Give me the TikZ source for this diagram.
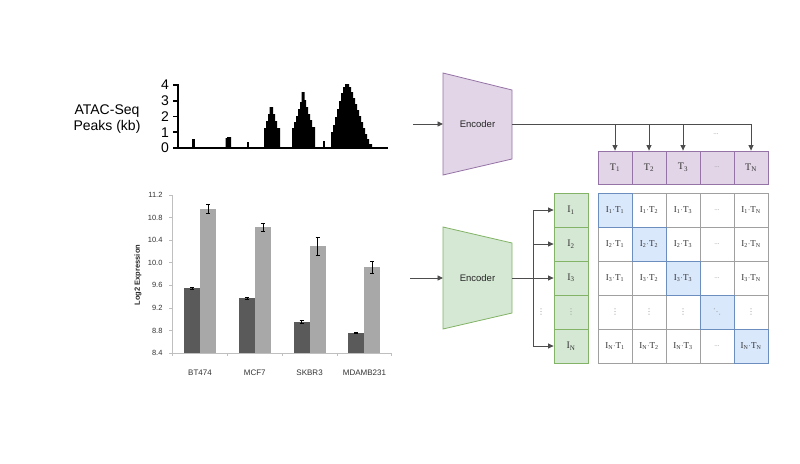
\documentclass[tikz,border=0pt]{standalone}
\usepackage{fontspec}
\setmainfont{Liberation Serif}
\setsansfont{Liberation Sans}
\newfontfamily\symfont{DejaVu Sans}
\usetikzlibrary{arrows.meta}
\definecolor{purpfill}{HTML}{E1D5E7}
\definecolor{purpline}{HTML}{9673A6}
\definecolor{grnfill}{HTML}{D5E8D4}
\definecolor{grnline}{HTML}{82B366}
\definecolor{bluefill}{HTML}{DAE8FC}
\definecolor{blueline}{HTML}{6C8EBF}
\definecolor{gridgray}{HTML}{A0A0A0}
\definecolor{arrgray}{HTML}{4D4D4D}
\definecolor{bardark}{HTML}{5A5A5A}
\definecolor{barlight}{HTML}{A8A8A8}
\definecolor{axgray}{HTML}{BFBFBF}
\newcommand\ixt[2]{I\textsubscript{#1}$\cdot$T\textsubscript{#2}}
\newcommand\vd{{\symfont\fontsize{8}{9}\selectfont\textcolor{black!40}{⋮}}}
\newcommand\dd{{\symfont\fontsize{8}{9}\selectfont\textcolor{black!40}{⋱}}}
\begin{document}
\begin{tikzpicture}[x=1pt,y=-1pt,
  arr/.style={draw=arrgray, line width=0.9pt, -{Triangle[length=5.5pt,width=5pt]}},
  cell/.style={draw=gridgray, line width=0.8pt, minimum width=34pt, minimum height=34pt, inner sep=0pt, font=\fontsize{9}{10}\selectfont, text=black!80},
  diag/.style={cell, fill=bluefill, draw=blueline},
  tcell/.style={cell, fill=purpfill, draw=purpline, minimum height=33pt, font=\fontsize{10}{11}\selectfont},
  icell/.style={cell, fill=grnfill, draw=grnline, font=\fontsize{10}{11}\selectfont},
  faint/.style={text=black!40, font=\fontsize{7}{8}\selectfont},
  enc/.style={font=\sffamily\fontsize{9.5}{11}\selectfont, text=black!85},
  peak/.style={fill=black, draw=none},
  tick/.style={font=\sffamily\fontsize{7.5}{9}\selectfont, text=black!80}
]
\useasboundingbox (0,0) rectangle (800,463);
\fill[white] (0,0) rectangle (800,463);

% ---------------- ATAC-Seq plot ----------------
\node[font=\sffamily\fontsize{14}{16}\selectfont, align=center] (atac) at (107,119) {ATAC-Seq\\Peaks (kb)};
\foreach \v in {0,1,2,3,4} {
  \node[font=\sffamily\fontsize{14}{16}\selectfont] (yl\v) at (165,{148-15.75*\v}) {\v};
  \draw[line width=1.6pt] (173,{148-15.75*\v}) -- (178,{148-15.75*\v});
}
% peaks
\fill[peak] (192,148) rectangle (195,138.5);
\fill[peak] (225.5,148) -- (225.5,138) -- (227,138) -- (227,137) -- (231,137) -- (231,148) -- cycle;
\fill[peak] (246.5,148) rectangle (248.5,141.5);
\fill[peak] (264,148) -- (264,128) -- (266,128) -- (266,121) -- (268,121) -- (268,114) -- (269.5,114) -- (269.5,107) -- (273,107) -- (273,114) -- (275,114) -- (275,121) -- (277,121) -- (277,128) -- (280,128) -- (280,148) -- cycle;
\fill[peak] (292,148) -- (292,128) -- (294,128) -- (294,122) -- (296,122) -- (296,116) -- (298,116) -- (298,109) -- (300,109) -- (300,102) -- (301.5,102) -- (301.5,92) -- (304.5,92) -- (304.5,100) -- (306,100) -- (306,107) -- (308,107) -- (308,114) -- (310,114) -- (310,120) -- (312,120) -- (312,127) -- (315,127) -- (315,148) -- cycle;
\fill[peak] (322.5,148) rectangle (325,141);
\fill[peak] (331,148) -- (331,132) -- (333,132) -- (333,125) -- (335,125) -- (335,117) -- (337,117) -- (337,109) -- (339,109) -- (339,101) -- (341,101) -- (341,93) -- (343,93) -- (343,87) -- (345,87) -- (345,84) -- (349,84) -- (349,87) -- (351,87) -- (351,92) -- (353,92) -- (353,98) -- (355,98) -- (355,104) -- (357,104) -- (357,110) -- (359,110) -- (359,116) -- (361,116) -- (361,122) -- (363,122) -- (363,128) -- (365,128) -- (365,134) -- (367,134) -- (367,139) -- (369,139) -- (369,144) -- (372,144) -- (372,148) -- cycle;
% axes
\draw[line width=1.8pt] (178,84) -- (178,148) -- (388,148);

% ---------------- Bar chart ----------------
\node[rotate=90, font=\sffamily\bfseries\fontsize{7.5}{9}\selectfont, text=black!85] (ylab) at (138,275) {Log2 Expression};
\draw[axgray, line width=0.7pt] (172,195) -- (172,353) -- (392,353);
\foreach \v/\t in {8.4/8.4, 8.8/8.8, 9.2/9.2, 9.6/9.6, 10.0/10.0, 10.4/10.4, 10.8/10.8, 11.2/11.2} {
  \draw[axgray, line width=0.7pt] (169,{353-56.43*(\v-8.4)}) -- (172,{353-56.43*(\v-8.4)});
  \node[tick, anchor=east] at (166,{353-56.43*(\v-8.4)}) {\t};
}
\foreach \x in {172,227.4,282.2,337,391.8} {
  \draw[axgray, line width=0.7pt] (\x,353) -- (\x,356);
}
\foreach \c/\d/\de/\l/\le/\nm in {200/9.55/0.02/10.95/0.08/BT474, 254.8/9.37/0.01/10.63/0.07/MCF7, 309.6/8.95/0.03/10.30/0.16/SKBR3, 364.4/8.76/0.01/9.92/0.1/MDAMB231} {
  \fill[bardark] (\c-16,353) rectangle (\c,{353-56.43*(\d-8.4)});
  \fill[barlight] (\c,353) rectangle (\c+16,{353-56.43*(\l-8.4)});
  \draw[black, line width=0.5pt] (\c-8,{353-56.43*(\d-\de-8.4)}) -- (\c-8,{353-56.43*(\d+\de-8.4)});
  \draw[black, line width=0.5pt] (\c-10,{353-56.43*(\d+\de-8.4)}) -- (\c-6,{353-56.43*(\d+\de-8.4)});
  \draw[black, line width=0.5pt] (\c-10,{353-56.43*(\d-\de-8.4)}) -- (\c-6,{353-56.43*(\d-\de-8.4)});
  \draw[black, line width=0.5pt] (\c+8,{353-56.43*(\l-\le-8.4)}) -- (\c+8,{353-56.43*(\l+\le-8.4)});
  \draw[black, line width=0.5pt] (\c+6,{353-56.43*(\l+\le-8.4)}) -- (\c+10,{353-56.43*(\l+\le-8.4)});
  \draw[black, line width=0.5pt] (\c+6,{353-56.43*(\l-\le-8.4)}) -- (\c+10,{353-56.43*(\l-\le-8.4)});
  \node[font=\sffamily\fontsize{8}{9}\selectfont, text=black!80] at (\c,373) {\nm};
}

% ---------------- Top encoder ----------------
\draw[fill=purpfill, draw=purpline, line width=0.8pt] (443,73) -- (512,90) -- (512,159) -- (443,175) -- cycle;
\node[enc] (enc1) at (477.5,124) {Encoder};
\coordinate (src1) at (413,124);
\coordinate (enc1in) at (443,124);
\coordinate (enc1out) at (512,124);

\node[tcell] (T1) at (615,167.5) {T\textsubscript{1}};
\node[tcell] (T2) at (649,167.5) {T\textsubscript{2}};
\node[tcell] (T3) at (683,167.5) {T\textsubscript{3}};
\node[tcell, faint] (T4) at (717,167.5) {...};
\node[tcell] (TN) at (751,167.5) {T\textsubscript{N}};
\node[faint] (tdots) at (716,134) {...};

\draw[arr] (src1) -- (enc1in);
\draw[arr] (enc1out) -| (T1.north);
\draw[arr] (enc1out) -| (T2.north);
\draw[arr] (enc1out) -| (T3.north);
\draw[arr] (enc1out) -| (TN.north);

% ---------------- Bottom encoder ----------------
\draw[fill=grnfill, draw=grnline, line width=0.8pt] (443,227) -- (512,243) -- (512,313) -- (443,329) -- cycle;
\node[enc] (enc2) at (477.5,278) {Encoder};
\coordinate (src2) at (410,278);
\coordinate (enc2in) at (443,278);
\coordinate (enc2out) at (512,278);
\coordinate (fork) at (533,278);

\node[icell] (I1) at (571,210) {I\textsubscript{1}};
\node[icell] (I2) at (571,244) {I\textsubscript{2}};
\node[icell] (I3) at (571,278) {I\textsubscript{3}};
\node[icell] (I4) at (571,312) {\vd};
\node[icell] (I5) at (571,346) {I\textsubscript{N}};
\node[inner sep=0pt] (fdots) at (541,312) {\vd};

\draw[arr] (src2) -- (enc2in);
\draw[arr] (enc2out) -- (fork) |- (I1.west);
\draw[arr] (enc2out) -- (fork) |- (I2.west);
\draw[arr] (enc2out) -- (I3.west);
\draw[arr] (enc2out) -- (fork) |- (I5.west);

% ---------------- Similarity matrix ----------------
\node[cell] (m12) at (649,210) {\ixt{1}{2}};
\node[cell] (m13) at (683,210) {\ixt{1}{3}};
\node[cell, faint] (m14) at (717,210) {...};
\node[cell] (m15) at (751,210) {\ixt{1}{N}};
\node[cell] (m21) at (615,244) {\ixt{2}{1}};
\node[cell] (m23) at (683,244) {\ixt{2}{3}};
\node[cell, faint] (m24) at (717,244) {...};
\node[cell] (m25) at (751,244) {\ixt{2}{N}};
\node[cell] (m31) at (615,278) {\ixt{3}{1}};
\node[cell] (m32) at (649,278) {\ixt{3}{2}};
\node[cell, faint] (m34) at (717,278) {...};
\node[cell] (m35) at (751,278) {\ixt{3}{N}};
\node[cell] (m41) at (615,312) {\vd};
\node[cell] (m42) at (649,312) {\vd};
\node[cell] (m43) at (683,312) {\vd};
\node[cell] (m45) at (751,312) {\vd};
\node[cell] (m51) at (615,346) {\ixt{N}{1}};
\node[cell] (m52) at (649,346) {\ixt{N}{2}};
\node[cell] (m53) at (683,346) {\ixt{N}{3}};
\node[cell, faint] (m54) at (717,346) {...};
\node[diag] (m11) at (615,210) {\ixt{1}{1}};
\node[diag] (m22) at (649,244) {\ixt{2}{2}};
\node[diag] (m33) at (683,278) {\ixt{3}{3}};
\node[diag] (m44) at (717,312) {\dd};
\node[diag] (m55) at (751,346) {\ixt{N}{N}};
\end{tikzpicture}
\end{document}
